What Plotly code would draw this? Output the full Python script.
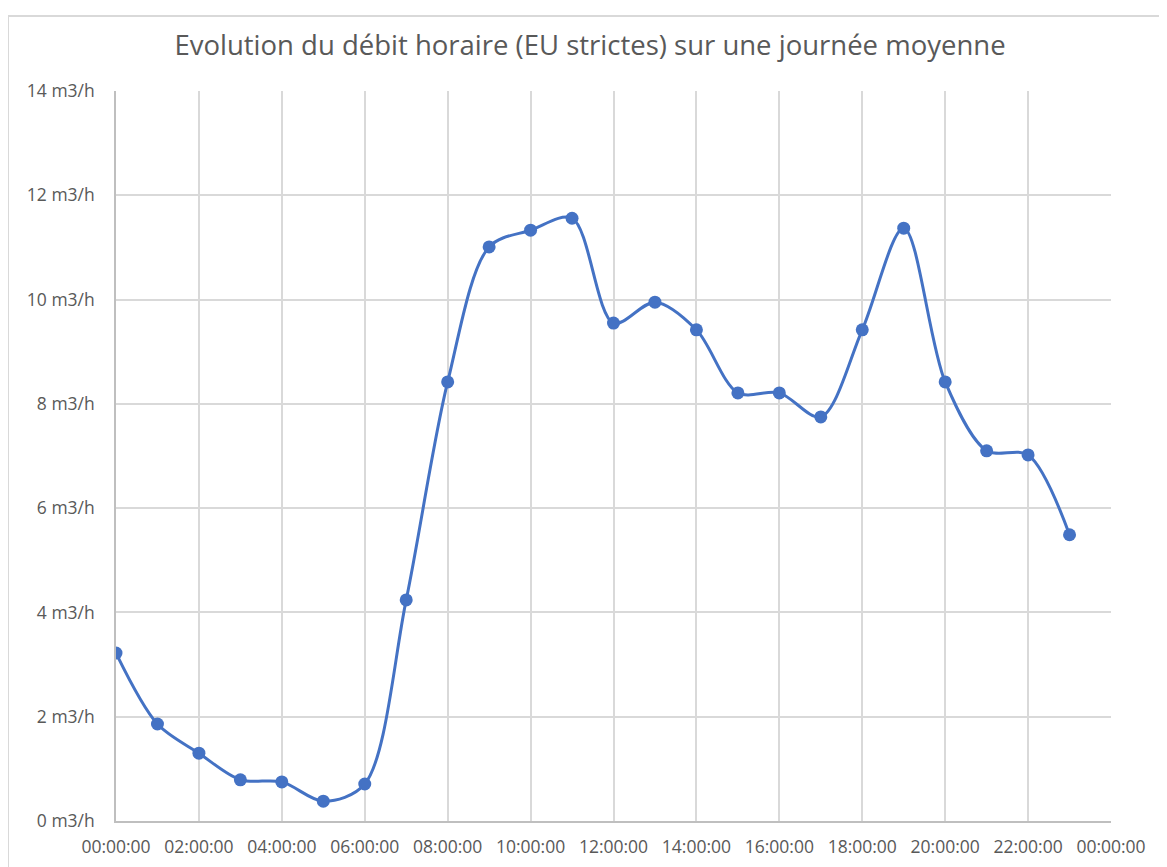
import plotly.graph_objects as go

hours = list(range(24))
debit = [3.22, 1.86, 1.30, 0.79, 0.75, 0.38, 0.71, 4.24, 8.42, 11.01, 11.33, 11.56,
         9.55, 9.95, 9.42, 8.21, 8.21, 7.75, 9.42, 11.37, 8.42, 7.10, 7.02, 5.49]
x_tickvals = list(range(0, 25, 2))
x_ticktext = ["00:00:00", "02:00:00", "04:00:00", "06:00:00", "08:00:00", "10:00:00",
              "12:00:00", "14:00:00", "16:00:00", "18:00:00", "20:00:00", "22:00:00",
              "00:00:00"]
y_tickvals = list(range(0, 15, 2))
y_ticktext = [f"{v} m3/h" for v in y_tickvals]
title = "Evolution du débit horaire (EU strictes) sur une journée moyenne"

font_family = "Open Sans, Noto Sans, sans-serif"
grey_text = "#595959"

fig = go.Figure()
fig.add_trace(go.Scatter(
    x=hours, y=debit, mode="lines+markers",
    line=dict(color="#4472C4", width=3, shape="spline", smoothing=0.9),
    marker=dict(color="#4472C4", size=13),
    showlegend=False,
))

fig.update_layout(
    width=1167, height=867,
    paper_bgcolor="white", plot_bgcolor="white",
    margin=dict(l=108, r=64, t=83, b=54),
    title=dict(text=title, x=(590 - 8) / 1167, xanchor="center",
               y=1 - (45 - 8) / 867, yanchor="middle",
               font=dict(family=font_family, size=27.5, color=grey_text)),
    font=dict(family=font_family, color=grey_text, size=17),
    xaxis=dict(range=[0, 24], tickvals=x_tickvals, ticktext=x_ticktext,
               showgrid=True, gridcolor="#d9d9d9", gridwidth=1.5,
               showline=True, linecolor="#bfbfbf", linewidth=1.5,
               zeroline=False, ticks="", ticklabelstandoff=9,
               tickfont=dict(size=17.5, color=grey_text)),
    yaxis=dict(range=[0, 14], tickvals=y_tickvals, ticktext=y_ticktext,
               showgrid=True, gridcolor="#d9d9d9", gridwidth=1.5,
               showline=True, linecolor="#bfbfbf", linewidth=1.5,
               zeroline=False, ticks="", ticklabelstandoff=16,
               tickfont=dict(size=17.5, color=grey_text)),
    shapes=[dict(type="rect", xref="paper", yref="paper",
                 x0=(0 - 108) / 995, x1=1.2, y0=-0.2, y1=1 + (83 - 8) / 730,
                 line=dict(color="#d9d9d9", width=2), fillcolor="rgba(0,0,0,0)",
                 layer="below")],
)

fig.write_html("out.html")
